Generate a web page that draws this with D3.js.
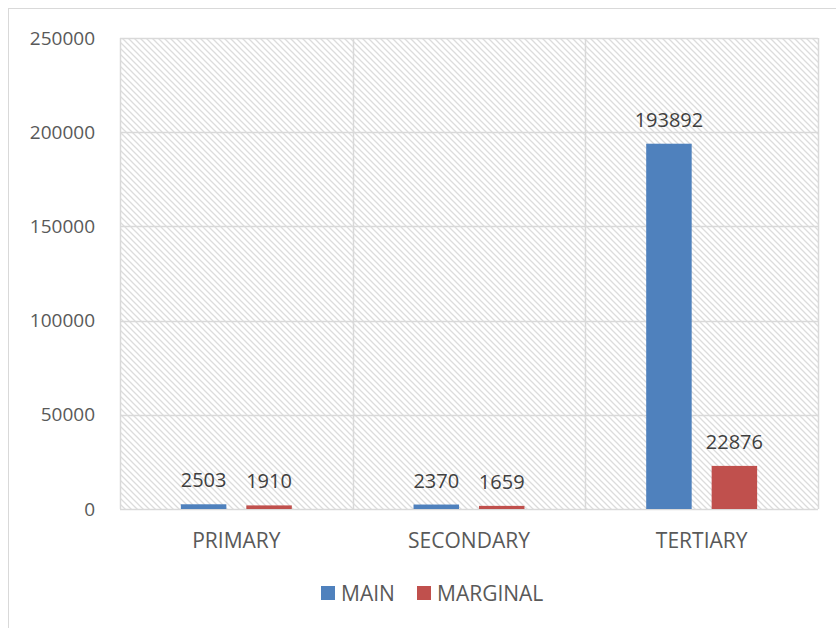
<!DOCTYPE html>
<html><head><meta charset="utf-8">
<script src="https://cdn.jsdelivr.net/npm/d3@7"></script>
<style>body{margin:0;background:#fff;} text{font-family:"Open Sans",sans-serif;}</style>
</head><body><svg id="c" width="836" height="628"></svg>
<script>
const categories = ["PRIMARY","SECONDARY","TERTIARY"];
const seriesNames = ["MAIN","MARGINAL"];
const mainValues = [2503,2370,193892];
const marginalValues = [1910,1659,22876];
const yTicks = [0,50000,100000,150000,200000,250000];
const colors = ["#4f81bd","#c0504d"];

const FF="'Open Sans',sans-serif";
const svg = d3.select("#c");
const W=836,H=628;
const m={l:120,r:818,t:38,b:509};
svg.append("rect").attr("x",8.5).attr("y",8.5).attr("width",W).attr("height",H).attr("fill","#fff").attr("stroke","#d9d9d9");

const defs=svg.append("defs");
const pat=defs.append("pattern").attr("id","hatch").attr("patternUnits","userSpaceOnUse").attr("width",6).attr("height",6);
pat.append("path").attr("d","M-1,-1 L7,7 M-1,5 L1,7 M5,-1 L7,1").attr("stroke","#dcdcdc").attr("stroke-width",1.3);

const x=d3.scaleBand().domain(categories).range([m.l,m.r]);
const y=d3.scaleLinear().domain([0,250000]).range([m.b,m.t]);
const xs=d3.scaleBand().domain(seriesNames).range([0,x.bandwidth()]).paddingInner(0.305).paddingOuter(0.93);

svg.append("rect").attr("x",m.l).attr("y",m.t).attr("width",m.r-m.l).attr("height",m.b-m.t).attr("fill","url(#hatch)");

svg.append("g").selectAll("line").data(yTicks).join("line")
 .attr("x1",m.l).attr("x2",m.r).attr("y1",d=>Math.round(y(d))+0.5).attr("y2",d=>Math.round(y(d))+0.5)
 .attr("stroke","#d9d9d9").attr("stroke-width",1.5);
const vx=[m.l, ...categories.map(c=>x(c)+x.bandwidth())];
svg.append("g").selectAll("line").data(vx).join("line")
 .attr("x1",d=>Math.round(d)+0.5).attr("x2",d=>Math.round(d)+0.5).attr("y1",m.t).attr("y2",m.b)
 .attr("stroke","#d9d9d9").attr("stroke-width",1.5);

const ya=svg.append("g").attr("transform",`translate(${m.l},0)`).call(d3.axisLeft(y).tickValues(yTicks).tickSize(0).tickPadding(25).tickFormat(d3.format("d")));
ya.select(".domain").remove();
ya.selectAll("text").attr("font-size",19).attr("fill","#595959").style("font-family",FF);

const xa=svg.append("g").attr("transform",`translate(0,${m.b})`).call(d3.axisBottom(x).tickSize(0).tickPadding(24));
xa.select(".domain").remove();
xa.selectAll("text").attr("font-size",21).attr("fill","#595959").style("font-family",FF);

const data=categories.map((c,i)=>({c, vals:[mainValues[i],marginalValues[i]]}));
const g=svg.append("g").selectAll("g").data(data).join("g").attr("transform",d=>`translate(${x(d.c)},0)`);
g.selectAll("rect").data(d=>d.vals.map((v,j)=>({v,s:seriesNames[j],j}))).join("rect")
 .attr("x",d=>xs(d.s)).attr("width",xs.bandwidth()).attr("y",d=>y(d.v)).attr("height",d=>y(0)-y(d.v)).attr("fill",d=>colors[d.j]);
g.selectAll("text").data(d=>d.vals.map((v,j)=>({v,s:seriesNames[j],j}))).join("text")
 .attr("x",d=>xs(d.s)+xs.bandwidth()/2).attr("y",d=>y(d.v)-17).attr("text-anchor","middle")
 .attr("font-size",20).attr("fill","#404040").style("font-family",FF).text(d=>d.v);

const lg=svg.append("g");
const lx=[321,417];
seriesNames.forEach((s,i)=>{
 lg.append("rect").attr("x",lx[i]).attr("y",586).attr("width",14).attr("height",14).attr("fill",colors[i]);
 lg.append("text").attr("x",lx[i]+20).attr("y",601).attr("font-size",21).attr("fill","#595959").style("font-family",FF).text(s);
});
</script></body></html>
